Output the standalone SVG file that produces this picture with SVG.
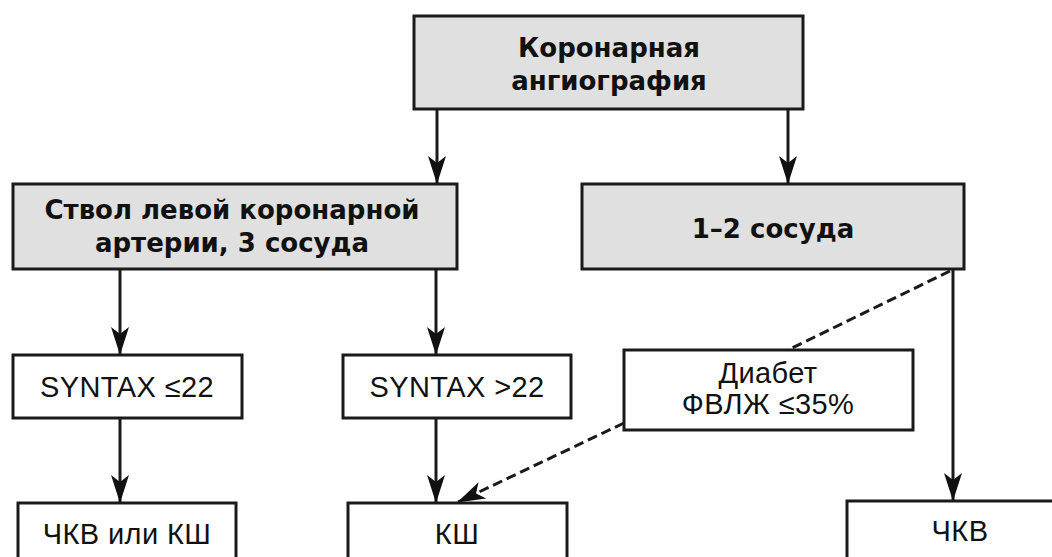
<svg xmlns="http://www.w3.org/2000/svg" width="1052" height="557" viewBox="0 0 1052 557">
<style>
.g{fill:#e0e0e0;stroke:#1a1a1a;stroke-width:3}
.w{fill:#ffffff;stroke:#1a1a1a;stroke-width:3}
.b{font-family:"DejaVu Sans","Liberation Sans",sans-serif;font-weight:bold;font-size:26px;fill:#111;text-anchor:middle}
.n{font-family:"Liberation Sans",Arial,sans-serif;font-size:29px;letter-spacing:0.4px;fill:#111;text-anchor:middle}
.c{stroke:#1a1a1a;stroke-width:3;fill:none;marker-end:url(#ah)}
.d{stroke:#1a1a1a;stroke-width:3;fill:none;stroke-dasharray:10 5}
</style>
<defs>
<marker id="ah" viewBox="0 0 28 20" refX="27" refY="10" markerWidth="28" markerHeight="20" markerUnits="userSpaceOnUse" orient="auto">
<path d="M0,1 L28,10 L0,19 L7,10 z" fill="#111"/>
</marker>
</defs>
<rect width="1052" height="557" fill="#ffffff"/>
<g id="connectors">
<line class="c" x1="437" y1="109" x2="437" y2="183"/>
<line class="c" x1="788" y1="109" x2="788" y2="183"/>
<line class="c" x1="120" y1="270" x2="120" y2="354"/>
<line class="c" x1="436" y1="270" x2="436" y2="354"/>
<line class="c" x1="120" y1="419" x2="120" y2="502"/>
<line class="c" x1="436" y1="419" x2="436" y2="502"/>
<line class="c" x1="953" y1="270" x2="953" y2="500"/>
<line class="d" x1="950" y1="271" x2="788" y2="350"/>
<line class="d c" x1="624" y1="423" x2="458" y2="502"/>
</g>
<g id="n-angio">
<rect class="g" x="414" y="16" width="389" height="93"/>
<text class="b" x="609" y="57">Коронарная</text>
<text class="b" x="609" y="90">ангиография</text>
</g>
<g id="n-stvol">
<rect class="g" x="13" y="184" width="444" height="85"/>
<text class="b" x="232" y="219">Ствол левой коронарной</text>
<text class="b" x="232" y="252">артерии, 3 сосуда</text>
</g>
<g id="n-12">
<rect class="g" x="582" y="184" width="382" height="85"/>
<text class="b" x="773" y="238">1–2 сосуда</text>
</g>
<g id="n-syn1">
<rect class="w" x="13" y="355" width="229" height="63"/>
<text class="n" x="127" y="397">SYNTAX ≤22</text>
</g>
<g id="n-syn2">
<rect class="w" x="343" y="355" width="228" height="63"/>
<text class="n" x="457" y="397">SYNTAX &gt;22</text>
</g>
<g id="n-diab">
<rect class="w" x="624" y="350" width="289" height="80"/>
<text class="n" x="768" y="383">Диабет</text>
<text class="n" x="768" y="414">ФВЛЖ ≤35%</text>
</g>
<g id="n-pci-cabg">
<rect class="w" x="18" y="503" width="218" height="70"/>
<text class="n" x="127" y="544">ЧКВ или КШ</text>
</g>
<g id="n-cabg">
<rect class="w" x="348" y="503" width="219" height="70"/>
<text class="n" x="457" y="544">КШ</text>
</g>
<g id="n-pci">
<rect class="w" x="847" y="501" width="220" height="70"/>
<text class="n" x="960" y="541">ЧКВ</text>
</g>
</svg>
